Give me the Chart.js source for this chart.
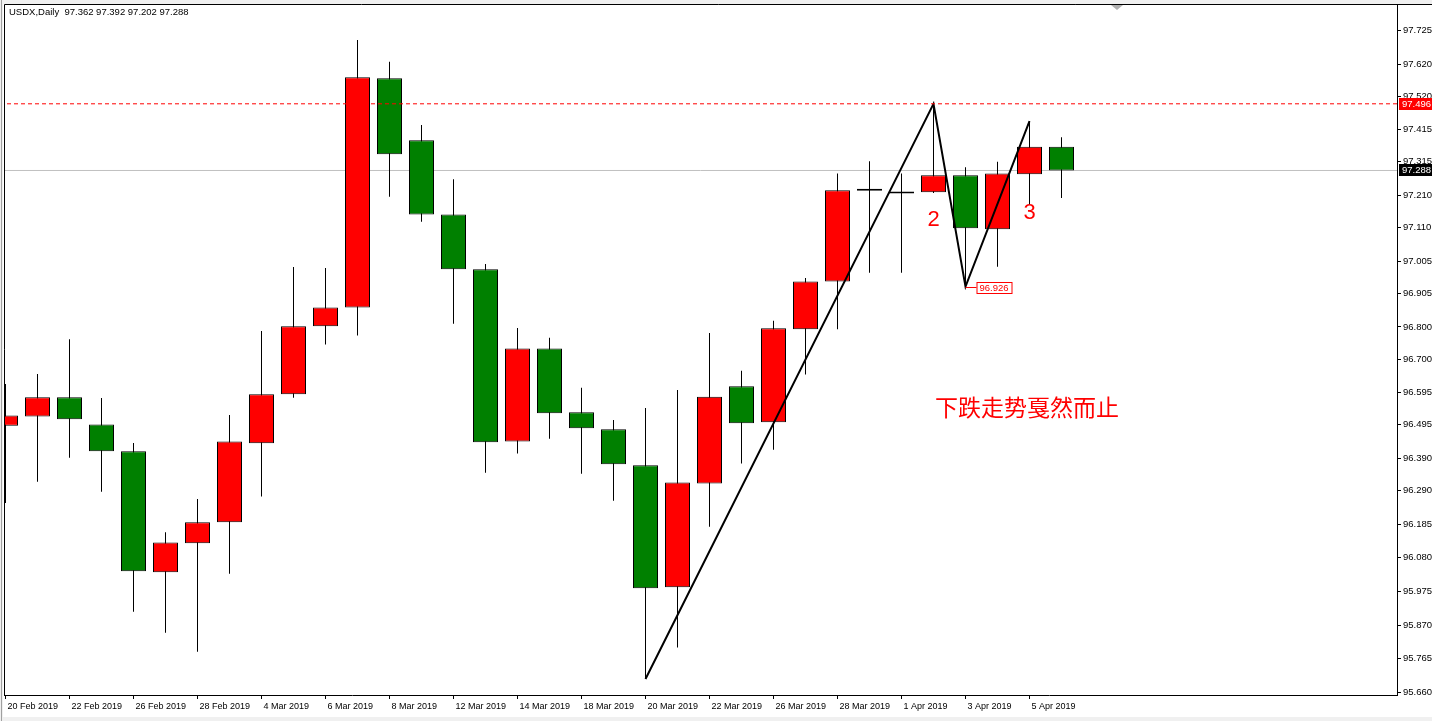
<!DOCTYPE html>
<html>
<head>
<meta charset="utf-8">
<script src="https://cdn.jsdelivr.net/npm/chart.js@4.4.1/dist/chart.umd.min.js"></script>
<style>
  html, body { margin: 0; padding: 0; background: #fff; overflow: hidden; }
  #wrap { position: relative; width: 1432px; height: 721px; }
  canvas { display: block; }
</style>
</head>
<body>
<div id="wrap"><canvas id="c" width="1432" height="721"></canvas></div>
<script>
// USDX daily bars, 20 Feb 2019 – 8 Apr 2019
const dates = [
  '20 Feb 2019','21 Feb 2019','22 Feb 2019','25 Feb 2019','26 Feb 2019','27 Feb 2019','28 Feb 2019',
  '1 Mar 2019','4 Mar 2019','5 Mar 2019','6 Mar 2019','7 Mar 2019','8 Mar 2019','11 Mar 2019',
  '12 Mar 2019','13 Mar 2019','14 Mar 2019','15 Mar 2019','18 Mar 2019','19 Mar 2019','20 Mar 2019',
  '21 Mar 2019','22 Mar 2019','25 Mar 2019','26 Mar 2019','27 Mar 2019','28 Mar 2019','29 Mar 2019',
  '1 Apr 2019','2 Apr 2019','3 Apr 2019','4 Apr 2019','5 Apr 2019','8 Apr 2019'
];
const opens = [
  96.492, 96.521, 96.581, 96.496, 96.412, 96.035, 96.125, 96.191, 96.437, 96.590,
  96.802, 96.861, 97.576, 97.382, 97.151, 96.980, 96.443, 96.733, 96.534, 96.481,
  96.369, 95.988, 96.312, 96.615, 96.503, 96.793, 96.942, 97.225, 97.216, 97.220,
  97.273, 97.105, 97.276, 97.362
];
const highs = [
  96.622, 96.653, 96.762, 96.578, 96.438, 96.160, 96.263, 96.525, 96.787, 96.987,
  96.984, 97.695, 97.627, 97.430, 97.261, 96.996, 96.797, 96.766, 96.610, 96.510,
  96.547, 96.603, 96.781, 96.663, 96.819, 96.953, 97.279, 97.317, 97.279, 97.496,
  97.298, 97.315, 97.442, 97.392
];
const lows = [
  96.251, 96.317, 96.392, 96.286, 95.912, 95.846, 95.787, 96.030, 96.271, 96.579,
  96.745, 96.773, 97.206, 97.128, 96.810, 96.345, 96.405, 96.451, 96.342, 96.258,
  95.702, 95.800, 96.177, 96.374, 96.417, 96.652, 96.793, 96.969, 96.969, 97.218,
  96.926, 96.988, 97.180, 97.202
];
const closes = [
  96.524, 96.581, 96.512, 96.412, 96.038, 96.128, 96.191, 96.443, 96.590, 96.802,
  96.861, 97.579, 97.339, 97.151, 96.980, 96.440, 96.733, 96.531, 96.484, 96.372,
  95.985, 96.315, 96.582, 96.500, 96.796, 96.942, 97.226, 97.225, 97.216, 97.273,
  97.108, 97.279, 97.362, 97.288
];

// ZigZag swing points (bar index, price)
const zigIdx = [20, 29, 30, 32];
const zigVal = [95.702, 97.496, 96.926, 97.442];

// Horizontal levels
const levelHigh = 97.496;   // dashed level
const lastPrice = 97.288;   // bid line

// Axis tick labels
const priceTicks = [
  97.725, 97.620, 97.520, 97.415, 97.315, 97.210, 97.110, 97.005, 96.905, 96.800,
  96.700, 96.595, 96.495, 96.390, 96.290, 96.185, 96.080, 95.975, 95.870, 95.765, 95.660
];
const dateTickIdx = [0, 2, 4, 6, 8, 10, 12, 14, 16, 18, 20, 22, 24, 26, 28, 30, 32];

// Text objects on the chart
const title = 'USDX,Daily  97.362 97.392 97.202 97.288';
const waveLabels = [
  { text: '2', x: 29, y: 97.134 },
  { text: '3', x: 32, y: 97.157 }
];
const note = { text: '下跌走势戛然而止', x: 29.05, y: 96.548 };

// Visible window (32px per bar, chart area 4..1397 x 4..695)
const X_MIN = -0.046875, X_MAX = 43.484375;
const Y_MIN = 95.652, Y_MAX = 97.8073;

const BULL = '#ff0000', BEAR = '#008000';
const bodyColors = opens.map((o, i) => closes[i] > o ? BULL : (closes[i] < o ? BEAR : '#000000'));
const LATIN = "'Liberation Sans', Arial, sans-serif";

const decor = {
  id: 'decor',
  beforeDraw(chart) {
    const ctx = chart.ctx;
    ctx.save();
    ctx.fillStyle = '#ffffff';
    ctx.fillRect(0, 0, chart.width, chart.height);
    ctx.fillStyle = '#f0f0f0';
    ctx.fillRect(0, 0, chart.width, 4);
    ctx.fillRect(0, 0, 3, chart.height);
    ctx.fillRect(0, 717, chart.width, 4);
    ctx.fillStyle = '#a0a0a0';
    ctx.fillRect(1, 0, 1, chart.height);
    ctx.restore();
  },
  afterDraw(chart) {
    const ctx = chart.ctx;
    const xs = chart.scales.x, ys = chart.scales.y;
    const area = chart.chartArea;
    ctx.save();

    // frame
    ctx.strokeStyle = '#000';
    ctx.lineWidth = 1;
    ctx.beginPath();
    ctx.moveTo(area.left + 0.5, area.bottom);
    ctx.lineTo(area.left + 0.5, area.top + 0.5);
    ctx.lineTo(chart.width, area.top + 0.5);
    ctx.stroke();

    // chart-shift marker
    ctx.fillStyle = '#b0b0b0';
    ctx.beginPath();
    ctx.moveTo(1111, 5); ctx.lineTo(1123, 5); ctx.lineTo(1117, 10); ctx.closePath();
    ctx.fill();

    // title
    ctx.fillStyle = '#000';
    ctx.font = '9.5px ' + LATIN;
    ctx.textBaseline = 'middle';
    ctx.textAlign = 'left';
    ctx.fillText(title, 9, 12.5);

    // price tags on the axis
    const tag = (v, bg) => {
      const y = Math.round(ys.getPixelForValue(v));
      ctx.fillStyle = bg;
      ctx.fillRect(area.right + 2, y - 6, chart.width - area.right - 2, 12);
      ctx.fillStyle = '#fff';
      ctx.font = '9.5px ' + LATIN;
      ctx.textBaseline = 'middle';
      ctx.fillText(v.toFixed(3), area.right + 5, y + 0.5);
    };
    tag(levelHigh, BULL);
    tag(lastPrice, '#000');

    // swing low price label
    const lowX = xs.getPixelForValue(zigIdx[2]);
    const lowY = Math.round(ys.getPixelForValue(zigVal[2])) + 0.5;
    ctx.strokeStyle = BULL;
    ctx.lineWidth = 1;
    ctx.beginPath();
    ctx.moveTo(lowX, lowY); ctx.lineTo(lowX + 11, lowY);
    ctx.stroke();
    ctx.fillStyle = '#fff';
    ctx.fillRect(lowX + 11.5, lowY - 5, 35, 11);
    ctx.strokeRect(lowX + 11.5, lowY - 5, 35, 11);
    ctx.fillStyle = BULL;
    ctx.font = '9.5px ' + LATIN;
    ctx.textBaseline = 'middle';
    ctx.fillText(zigVal[2].toFixed(3), lowX + 14, lowY + 0.5);

    // wave numbers
    ctx.fillStyle = BULL;
    ctx.font = '22px ' + LATIN;
    ctx.textAlign = 'center';
    waveLabels.forEach(l => {
      ctx.fillText(l.text, xs.getPixelForValue(l.x), ys.getPixelForValue(l.y));
    });

    // comment
    ctx.textAlign = 'left';
    ctx.font = "23px 'Noto Sans CJK SC', sans-serif";
    ctx.fillText(note.text, xs.getPixelForValue(note.x), ys.getPixelForValue(note.y));

    ctx.restore();
  }
};

const hLine = (v, color, dash, order) => ({
  type: 'line',
  data: [{ x: X_MIN - 1, y: v }, { x: X_MAX + 1, y: v }],
  borderColor: color,
  borderWidth: 1,
  borderDash: dash,
  pointRadius: 0,
  order
});

new Chart(document.getElementById('c'), {
  type: 'bar',
  data: {
    datasets: [
      hLine(lastPrice, '#c0c0c0', [], 6),
      {
        type: 'bar',
        data: lows.map((l, i) => ({ x: i, y: [l, highs[i]] })),
        backgroundColor: '#000',
        borderWidth: 0,
        barThickness: 1,
        inflateAmount: 0,
        grouped: false,
        order: 5
      },
      {
        type: 'bar',
        data: opens.map((o, i) => ({ x: i, y: [o, closes[i]] })),
        backgroundColor: bodyColors,
        borderColor: '#000',
        borderWidth: 1,
        borderSkipped: false,
        barThickness: 25,
        minBarLength: 2,
        inflateAmount: 0,
        grouped: false,
        order: 4
      },
      {
        type: 'line',
        data: zigIdx.map((k, i) => ({ x: k, y: zigVal[i] })),
        borderColor: '#000',
        borderWidth: 2,
        pointRadius: 0,
        tension: 0,
        order: 3
      },
      hLine(levelHigh, BULL, [4, 3], 2)
    ]
  },
  options: {
    responsive: false,
    animation: false,
    devicePixelRatio: 1,
    events: [],
    layout: { padding: { left: 4, top: 4, right: 0, bottom: 0 } },
    plugins: { legend: { display: false }, tooltip: { enabled: false } },
    scales: {
      x: {
        type: 'linear',
        position: 'bottom',
        offset: false,
        min: X_MIN,
        max: X_MAX,
        grid: { display: true, offset: false, drawOnChartArea: false, drawTicks: true, tickLength: 4, color: '#000' },
        border: { display: true, color: '#000', width: 1 },
        ticks: {
          autoSkip: false, maxRotation: 0, align: 'start', padding: 2, labelOffset: 2,
          color: '#000', font: { family: LATIN, size: 9 },
          callback: v => dates[v] !== undefined ? dates[v] : ''
        },
        afterBuildTicks: s => { s.ticks = dateTickIdx.map(v => ({ value: v })); },
        afterFit: s => { s.height = 26; s.paddingLeft = 0; s.paddingRight = 0; }
      },
      y: {
        type: 'linear',
        position: 'right',
        min: Y_MIN,
        max: Y_MAX,
        grid: { display: true, drawOnChartArea: false, drawTicks: true, tickLength: 4, color: '#000' },
        border: { display: true, color: '#000', width: 1 },
        ticks: {
          padding: 2, color: '#000', font: { family: LATIN, size: 9.5 },
          callback: v => Number(v).toFixed(3)
        },
        afterBuildTicks: s => { s.ticks = priceTicks.map(v => ({ value: v })); },
        afterFit: s => { s.width = 35; s.paddingTop = 0; s.paddingBottom = 0; }
      }
    }
  },
  plugins: [decor]
});
</script>
</body>
</html>
